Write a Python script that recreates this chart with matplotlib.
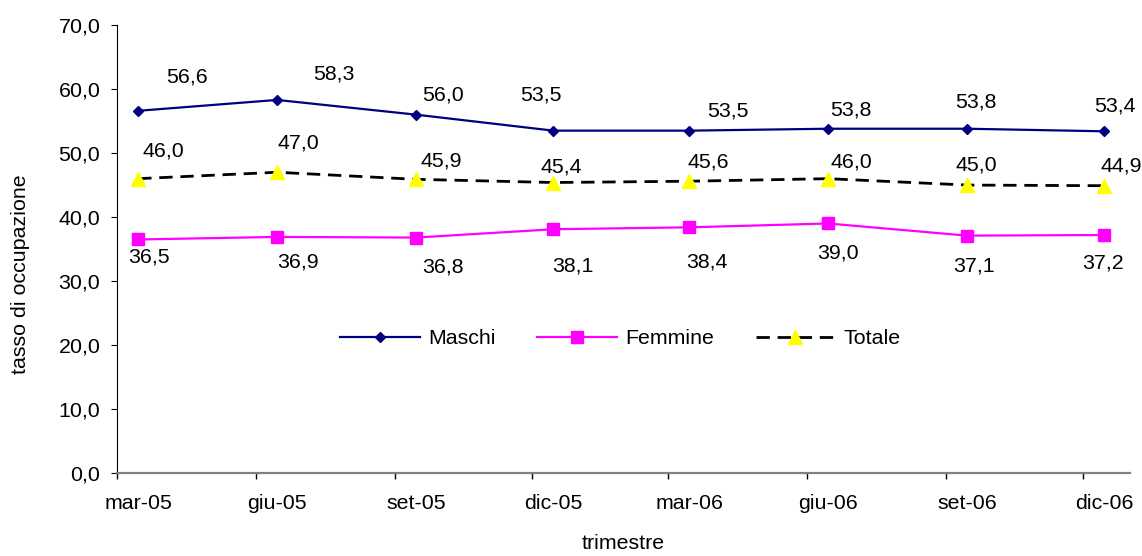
import matplotlib
matplotlib.use('Agg')
import matplotlib.pyplot as plt
import matplotlib.dates as mdates
from matplotlib.ticker import FixedLocator, FixedFormatter, NullFormatter, FuncFormatter
import pandas as pd

# Dati: tasso di occupazione per trimestre
trimestri = ['mar-05', 'giu-05', 'set-05', 'dic-05', 'mar-06', 'giu-06', 'set-06', 'dic-06']
maschi = [56.6, 58.3, 56.0, 53.5, 53.5, 53.8, 53.8, 53.4]
femmine = [36.5, 36.9, 36.8, 38.1, 38.4, 39.0, 37.1, 37.2]
totale = [46.0, 47.0, 45.9, 45.4, 45.6, 46.0, 45.0, 44.9]

plt.rcParams['font.family'] = ['Liberation Sans', 'DejaVu Sans']
fs = 15.4

# asse temporale: inizio mese per le tacche, metà mese per i punti
inizio = pd.date_range('2005-03-01', periods=len(trimestri), freq='3MS')
date = inizio + pd.Timedelta(days=14)
x = mdates.date2num(date)

fig = plt.figure(figsize=(11.42, 5.56), dpi=100)
ax = fig.add_axes([0.1025, 0.149, 0.887, 0.806])

ax.plot(x, maschi, color='#000080', lw=1.6, marker='D', ms=4.8, label='Maschi')
ax.plot(x, femmine, color='#FF00FF', lw=1.6, marker='s', ms=8, label='Femmine')
ax.plot(x, totale, color='black', lw=2.0, dashes=(4.8, 2.8), marker='^', ms=10,
        mfc='#FFFF00', mec='#FFFF00', label='Totale')

# posizioni delle etichette (offset in pixel rispetto al punto)
off_m = [(49, 34), (57, 26), (27, 20), (-12, 36), (39, 20), (23, 19), (9, 27), (11, 25)]
off_t = [(25, 28), (21, 29), (25, 18), (8, 16), (19, 19), (23, 17), (9, 20), (17, 20)]
off_f = [(11, -18), (21, -25), (27, -29), (20, -37), (18, -35), (10, -30), (7, -30), (-1, -28)]

for serie, offs in [(maschi, off_m), (totale, off_t), (femmine, off_f)]:
    for xi, v, o in zip(x, serie, offs):
        ax.annotate(f'{v:.1f}'.replace('.', ','), (xi, v), xytext=o,
                    textcoords='offset pixels', ha='center', va='center', fontsize=fs)

ax.set_ylim(0, 70)
ax.set_yticks(range(0, 71, 10))
ax.yaxis.set_major_formatter(FuncFormatter(lambda v, p: f'{v:.1f}'.replace('.', ',')))
ax.set_xlim(mdates.date2num(pd.Timestamp('2005-03-01')), mdates.date2num(pd.Timestamp('2007-01-01')))

ax.xaxis.set_major_locator(FixedLocator(mdates.date2num(inizio)))
ax.xaxis.set_major_formatter(NullFormatter())
ax.xaxis.set_minor_locator(FixedLocator(x))
ax.xaxis.set_minor_formatter(FixedFormatter(trimestri))
ax.tick_params(axis='x', which='major', length=4, width=1, color='black')
ax.tick_params(axis='x', which='minor', length=0, pad=15, labelsize=fs)
ax.tick_params(axis='y', length=4, width=0.8, pad=8, labelsize=fs)

for s in ['top', 'right']:
    ax.spines[s].set_visible(False)
ax.spines['left'].set_color('black')
ax.spines['left'].set_linewidth(0.8)
ax.spines['bottom'].set_color('#808080')
ax.spines['bottom'].set_linewidth(1.6)

ax.set_ylabel('tasso di occupazione', fontsize=fs)
ax.yaxis.set_label_coords(-0.086, 0.444)
ax.set_xlabel('trimestre', fontsize=fs)
ax.xaxis.set_label_coords(0.5, -0.135)

ax.legend(loc='center', bbox_to_anchor=(0.497, 0.30), ncol=3, frameon=False,
          fontsize=fs, handlelength=3.7, handletextpad=0.4, columnspacing=1.95)

fig.savefig('out.png', dpi=100)
